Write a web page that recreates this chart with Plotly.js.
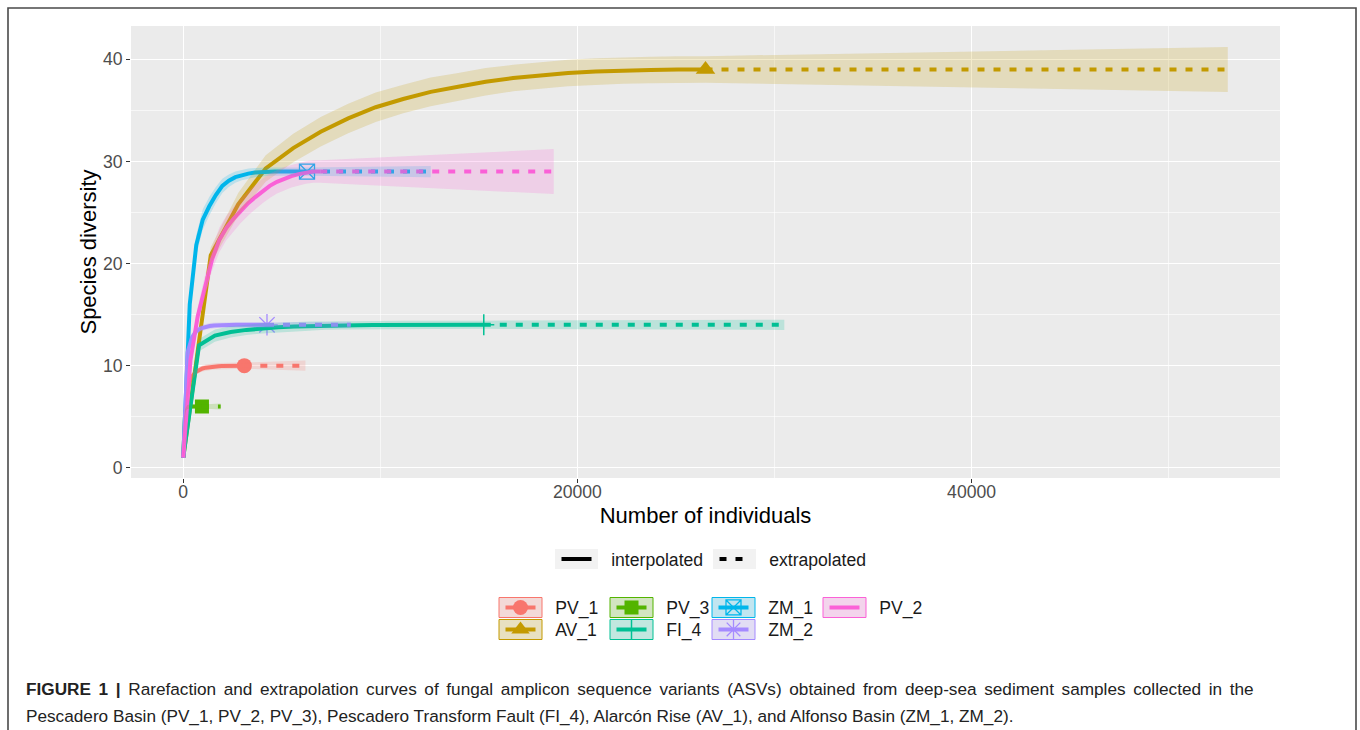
<!DOCTYPE html>
<html><head><meta charset="utf-8">
<script src="https://cdn.plot.ly/plotly-3.0.1.min.js"></script>
<style>html,body{margin:0;padding:0;background:#fff}#chart{width:1360px;height:730px}</style>
</head><body><div id="chart"></div>
<script>
// ---------------- DATA ----------------
const samples = ["PV_1","AV_1","PV_3","FI_4","ZM_1","ZM_2","PV_2"];
const colors  = ["#F8766D","#C49A00","#53B400","#00C094","#00B6EB","#A58AFF","#FB61D7"];
const symbols = ["circle","triangle-up","square","cross-thin-open","square-x-open","asterisk-open",null];

// interpolated (rarefaction) curves: sample size, species, CI half-width
const PV_1_x  = [1,164,327,490,653,817,980,1143,1306,1469,1632,1795,1958,2121,2285,2448,2611,2774,2937,3100];
const PV_1_y  = [1,6.8,8.4,9.05,9.4,9.6,9.72,9.8,9.86,9.9,9.93,9.95,9.97,9.98,9.99,10,10,10,10,10];
const PV_1_ci = [0,0.4,0.4,0.35,0.3,0.3,0.3,0.3,0.3,0.3,0.3,0.3,0.3,0.3,0.3,0.3,0.3,0.3,0.3,0.3];

const AV_1_x  = [1,1395,2790,4185,5580,6975,8370,9765,11160,12555,13950,15345,16740,18135,19530,20925,22320,23715,25110,26500];
const AV_1_y  = [1,20.8,25.8,29.3,31.3,32.9,34.2,35.3,36.1,36.8,37.3,37.8,38.15,38.4,38.65,38.8,38.9,38.95,39,39];
const AV_1_ci = [0,0.8,1.1,1.3,1.4,1.45,1.45,1.45,1.4,1.4,1.35,1.35,1.3,1.3,1.3,1.3,1.3,1.3,1.3,1.3];

const PV_3_x  = [1,51,101,151,201,251,301,351,401,451,500,550,600,650,700,750,800,850,900,950];
const PV_3_y  = [1,4.6,5.5,5.8,5.92,5.97,5.99,6,6,6,6,6,6,6,6,6,6,6,6,6];
const PV_3_ci = [0,0.3,0.25,0.2,0.2,0.2,0.2,0.2,0.2,0.2,0.2,0.2,0.2,0.2,0.2,0.2,0.2,0.2,0.2,0.2];

const FI_4_x  = [1,804,1606,2409,3211,4014,4816,5619,6421,7224,8026,8829,9631,10434,11236,12039,12842,13644,14447,15250];
const FI_4_y  = [1,12.0,12.95,13.3,13.5,13.65,13.75,13.82,13.87,13.91,13.94,13.96,13.97,13.98,13.99,14,14,14,14,14];
const FI_4_ci = [0,0.6,0.6,0.55,0.5,0.5,0.45,0.45,0.45,0.4,0.4,0.4,0.4,0.4,0.4,0.4,0.4,0.4,0.4,0.4];

const ZM_1_x  = [1,331,661,992,1322,1653,1983,2314,2644,2975,3305,3636,3966,4297,4627,4958,5288,5619,5949,6280];
const ZM_1_y  = [1,16.0,21.8,24.3,25.6,26.7,27.6,28.1,28.45,28.65,28.8,28.9,28.95,29,29,29,29,29,29,29];
const ZM_1_ci = [0,0.8,1.0,1.0,0.9,0.8,0.7,0.6,0.55,0.5,0.5,0.45,0.45,0.4,0.4,0.4,0.4,0.4,0.4,0.4];

const ZM_2_x  = [1,224,448,671,895,1119,1342,1566,1790,2013,2237,2461,2684,2908,3132,3355,3579,3803,4026,4250];
const ZM_2_y  = [1,11.3,12.8,13.4,13.65,13.8,13.88,13.93,13.96,13.98,13.99,14,14,14,14,14,14,14,14,14];
const ZM_2_ci = [0,0.5,0.4,0.35,0.3,0.3,0.3,0.3,0.25,0.25,0.25,0.25,0.25,0.25,0.25,0.25,0.25,0.25,0.25,0.25];

const PV_2_x  = [1,366,732,1098,1463,1829,2195,2561,2927,3293,3658,4024,4390,4756,5122,5488,5853,6219,6585,6950];
const PV_2_y  = [1,10.5,14.8,17.8,20.4,22.3,23.5,24.4,25.2,25.9,26.5,27.1,27.6,28.0,28.3,28.55,28.75,28.9,29,29];
const PV_2_ci = [0,0.7,0.9,1.0,1.1,1.2,1.2,1.2,1.2,1.2,1.2,1.2,1.2,1.15,1.15,1.1,1.1,1.1,1.1,1.1];

// extrapolated parts
const PV_1_ext_x = [3100,6200],   PV_1_ext_y = [10,10], PV_1_ext_ci = [0.3,0.5];
const AV_1_ext_x = [26500,53000], AV_1_ext_y = [39,39], AV_1_ext_ci = [1.3,2.2];
const PV_3_ext_x = [950,1900],    PV_3_ext_y = [6,6],   PV_3_ext_ci = [0.2,0.3];
const FI_4_ext_x = [15250,30500], FI_4_ext_y = [14,14], FI_4_ext_ci = [0.4,0.5];
const ZM_1_ext_x = [6280,12560],  ZM_1_ext_y = [29,29], ZM_1_ext_ci = [0.4,0.55];
const ZM_2_ext_x = [4250,8500],   ZM_2_ext_y = [14,14], ZM_2_ext_ci = [0.25,0.3];
const PV_2_ext_x = [6950,18800],  PV_2_ext_y = [29,29], PV_2_ext_ci = [1.1,2.2];

const xTicks = [0,20000,40000];
const yTicks = [0,10,20,30,40];
const xTitle = "Number of individuals";
const yTitle = "Species diversity";
const lineTypes = ["interpolated","extrapolated"];
const caption1 = "<b>FIGURE 1 |</b> Rarefaction and extrapolation curves of fungal amplicon sequence variants (ASVs) obtained from deep-sea sediment samples collected in the";
const caption2 = "Pescadero Basin (PV_1, PV_2, PV_3), Pescadero Transform Fault (FI_4), Alarcón Rise (AV_1), and Alfonso Basin (ZM_1, ZM_2).";

const series = {
  PV_1:{x:PV_1_x,y:PV_1_y,ci:PV_1_ci,ex:PV_1_ext_x,ey:PV_1_ext_y,eci:PV_1_ext_ci},
  AV_1:{x:AV_1_x,y:AV_1_y,ci:AV_1_ci,ex:AV_1_ext_x,ey:AV_1_ext_y,eci:AV_1_ext_ci},
  PV_3:{x:PV_3_x,y:PV_3_y,ci:PV_3_ci,ex:PV_3_ext_x,ey:PV_3_ext_y,eci:PV_3_ext_ci},
  FI_4:{x:FI_4_x,y:FI_4_y,ci:FI_4_ci,ex:FI_4_ext_x,ey:FI_4_ext_y,eci:FI_4_ext_ci},
  ZM_1:{x:ZM_1_x,y:ZM_1_y,ci:ZM_1_ci,ex:ZM_1_ext_x,ey:ZM_1_ext_y,eci:ZM_1_ext_ci},
  ZM_2:{x:ZM_2_x,y:ZM_2_y,ci:ZM_2_ci,ex:ZM_2_ext_x,ey:ZM_2_ext_y,eci:ZM_2_ext_ci},
  PV_2:{x:PV_2_x,y:PV_2_y,ci:PV_2_ci,ex:PV_2_ext_x,ey:PV_2_ext_y,eci:PV_2_ext_ci}
};

// ---------------- STYLE ----------------
const FONT = "Liberation Sans, Arial, Helvetica, sans-serif";
const markerSizes = [15,17,14,15,15,18,0];
const markerLineW = [0,0,0,1.5,1.3,1.3,0];
function rgba(hex,a){const n=parseInt(hex.slice(1),16);return `rgba(${n>>16&255},${n>>8&255},${n&255},${a})`;}
function mk(i){
  const s=symbols[i];
  const open = s && s.indexOf("open")>=0;
  return {symbol:s||"circle", size:markerSizes[i], color:colors[i],
          line:{color:colors[i], width:open?markerLineW[i]:0}};
}

const traces=[];
// observed points
samples.forEach((k,i)=>{
  if(!symbols[i]) return;
  const d=series[k], n=d.x.length-1;
  traces.push({x:[d.x[n]],y:[d.y[n]],mode:"markers",marker:mk(i),showlegend:false,hoverinfo:"skip"});
});
// lines
samples.forEach((k,i)=>{
  const d=series[k];
  traces.push({x:d.x,y:d.y,mode:"lines",line:{color:colors[i],width:4},showlegend:false,hoverinfo:"skip"});
  traces.push({x:d.ex,y:d.ey,mode:"lines",line:{color:colors[i],width:4,dash:"7px,9px"},showlegend:false,hoverinfo:"skip"});
});
// ribbons
samples.forEach((k,i)=>{
  const d=series[k];
  const xs=d.x.concat(d.ex.slice(1));
  const ys=d.y.concat(d.ey.slice(1));
  const cs=d.ci.concat(d.eci.slice(1));
  const up=ys.map((v,j)=>v+cs[j]);
  const lo=ys.map((v,j)=>v-cs[j]);
  traces.push({x:xs.concat(xs.slice().reverse()),y:up.concat(lo.slice().reverse()),
    mode:"lines",fill:"toself",fillcolor:rgba(colors[i],0.2),line:{width:0,color:"rgba(0,0,0,0)"},
    showlegend:false,hoverinfo:"skip"});
});

// ---------------- LEGENDS ----------------
const W=1360,H=730,ML=131,MR=80,MT=26,MB=252;
const PW=W-ML-MR, PH=H-MT-MB;
const px2x=p=>(p-ML)/PW, py2y=p=>(H-MB-p)/PH;
const NB="\u00a0\u00a0\u00a0";
const colBoxLeft=[499,610,712,823];
const rowTop=[597.5,619.5];
const keyW=43, keyH=20;
const layout={
  width:W,height:H,margin:{l:ML,r:MR,t:MT,b:MB,autoexpand:false},
  paper_bgcolor:"#ffffff",plot_bgcolor:"#EBEBEB",hovermode:false,
  font:{family:FONT,color:"#000"},
  xaxis:{range:[-2650,55650],tickvals:xTicks,tickformat:"d",showgrid:true,gridcolor:"#ffffff",gridwidth:1.3,
    minor:{dtick:10000,tick0:0,showgrid:true,gridcolor:"#ffffff",gridwidth:0.6},
    zeroline:false,ticks:"outside",ticklen:4,tickwidth:1.1,tickcolor:"#333333",ticklabelstandoff:-6,
    tickfont:{size:17.6,color:"#4D4D4D",family:FONT},
    title:{text:xTitle,font:{size:22,color:"#000",family:FONT},standoff:6}},
  yaxis:{range:[-1,43.25],tickvals:yTicks,showgrid:true,gridcolor:"#ffffff",gridwidth:1.3,
    minor:{dtick:5,tick0:0,showgrid:true,gridcolor:"#ffffff",gridwidth:0.6},
    zeroline:false,ticks:"outside",ticklen:4,tickwidth:1.1,tickcolor:"#333333",
    tickfont:{size:17.6,color:"#4D4D4D",family:FONT},
    title:{text:yTitle,font:{size:22,color:"#000",family:FONT},standoff:0}},
  shapes:[],annotations:[]
};
// frame around figure
layout.shapes.push({type:"rect",xref:"paper",yref:"paper",x0:px2x(8),x1:px2x(1356),y0:py2y(8),y1:py2y(780),
  line:{color:"#4a4a4a",width:1.6},fillcolor:"rgba(0,0,0,0)",layer:"below"});

samples.forEach((k,i)=>{
  const col=Math.floor(i/2), row=i%2;
  const bl=colBoxLeft[col], bt=rowTop[row];
  layout.shapes.push({type:"rect",xref:"paper",yref:"paper",x0:px2x(bl),x1:px2x(bl+keyW),y0:py2y(bt),y1:py2y(bt+keyH),
    fillcolor:"#F2F2F2",line:{width:0},layer:"below"});
  layout.shapes.push({type:"rect",xref:"paper",yref:"paper",x0:px2x(bl),x1:px2x(bl+keyW),y0:py2y(bt),y1:py2y(bt+keyH),
    fillcolor:rgba(colors[i],0.2),line:{color:colors[i],width:1},layer:"below"});
  const lname = i===0?"legend":"legend"+(i+1);
  const lt={x:[null],y:[null],mode:symbols[i]?"lines+markers":"lines",name:NB+k,
    line:{color:colors[i],width:4},showlegend:true,legend:lname,hoverinfo:"skip"};
  if(symbols[i]) lt.marker=mk(i);
  traces.push(lt);
  layout[lname]={x:px2x(bl+keyW/2-20),xanchor:"left",y:py2y(bt+keyH/2),yanchor:"middle",
    bgcolor:"rgba(0,0,0,0)",borderwidth:0,font:{size:17.6,color:"#1a1a1a",family:FONT},itemclick:false,itemdoubleclick:false};
});
// linetype legend
const ltBoxLeft=[555,713];
lineTypes.forEach((t,j)=>{
  const bl=ltBoxLeft[j], bt=549;
  layout.shapes.push({type:"rect",xref:"paper",yref:"paper",x0:px2x(bl),x1:px2x(bl+keyW),y0:py2y(bt),y1:py2y(bt+keyH),
    fillcolor:"#F2F2F2",line:{width:0},layer:"below"});
  const lname="legend"+(8+j);
  traces.push({x:[null],y:[null],mode:"lines",name:NB+t,line:{color:"#000",width:4,dash:j?"7px,9px":"solid"},
    showlegend:true,legend:lname,hoverinfo:"skip"});
  layout[lname]={x:px2x(bl+keyW/2-20),xanchor:"left",y:py2y(bt+keyH/2),yanchor:"middle",
    bgcolor:"rgba(0,0,0,0)",borderwidth:0,font:{size:17.6,color:"#1a1a1a",family:FONT},itemclick:false,itemdoubleclick:false};
});

// caption (first line justified like the source paragraph: a little extra word spacing)
const justified1 = caption1.replace(/ (?![^<]*>)/g, " \u2006");
layout.annotations.push({xref:"paper",yref:"paper",x:px2x(24),y:py2y(689),xanchor:"left",yanchor:"middle",showarrow:false,
  text:justified1,font:{size:17.2,color:"#222",family:FONT}});
layout.annotations.push({xref:"paper",yref:"paper",x:px2x(24),y:py2y(716),xanchor:"left",yanchor:"middle",showarrow:false,
  text:caption2,font:{size:17.2,color:"#222",family:FONT}});

Plotly.newPlot("chart",traces,layout,{staticPlot:true,displayModeBar:false});
</script></body></html>
